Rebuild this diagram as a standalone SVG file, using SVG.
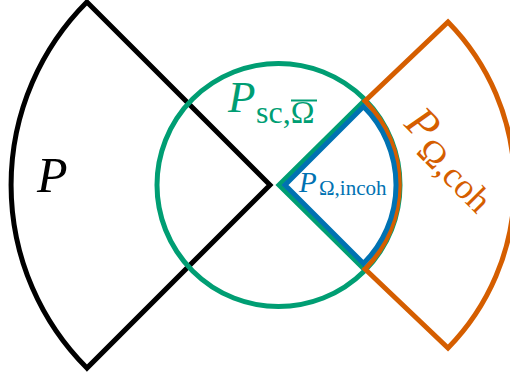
<svg xmlns="http://www.w3.org/2000/svg" width="510" height="376" viewBox="0 0 510 376">
<style>
.shape{fill:none;stroke-width:5;stroke-linejoin:miter;stroke-miterlimit:10}
.lbl{font-family:"Liberation Serif","Times New Roman",serif}
.it{font-style:italic}
</style>
<rect width="510" height="376" fill="#fff"/>
<g id="P">
<path class="shape" stroke="#000" d="M86.9,1.9 L270,185 L86.9,368.1 A259,259 0 0 1 86.9,1.9 Z"/>
<text class="lbl it" x="37" y="192" font-size="50" fill="#000">P</text>
</g>
<g id="P_sc">
<circle class="shape" stroke="#009E73" cx="278.5" cy="185" r="121.5"/>
<path class="shape" stroke="#009E73" d="M365,100 L279,185 L365,270"/>
<text class="lbl" fill="#009E73"><tspan class="it" x="228" y="112" font-size="45">P</tspan><tspan x="256" y="123" font-size="32">sc,Ω</tspan></text>
<line x1="291" y1="100.5" x2="317" y2="100.5" stroke="#009E73" stroke-width="2"/>
</g>
<g id="P_coh">
<path class="shape" stroke="#D55E00" d="M365,101 L448,22 A233,233 0 0 1 448,348 L365,269 A120,120 0 0 0 365,101 Z"/>
<g transform="translate(403,125) rotate(45)">
<text class="lbl" fill="#D55E00"><tspan class="it" x="0" y="0" font-size="45">P</tspan><tspan x="28" y="11" font-size="36">Ω,coh</tspan></text>
</g>
</g>
<g id="P_incoh">
<path class="shape" stroke="#0072B2" d="M285,185 L363.5,106.5 A111,111 0 0 1 363.5,263.5 Z"/>
<text class="lbl" fill="#0072B2"><tspan class="it" x="299" y="192" font-size="29">P</tspan><tspan x="319" y="195" font-size="21">Ω,incoh</tspan></text>
</g>
<g id="connectors"/>
</svg>
